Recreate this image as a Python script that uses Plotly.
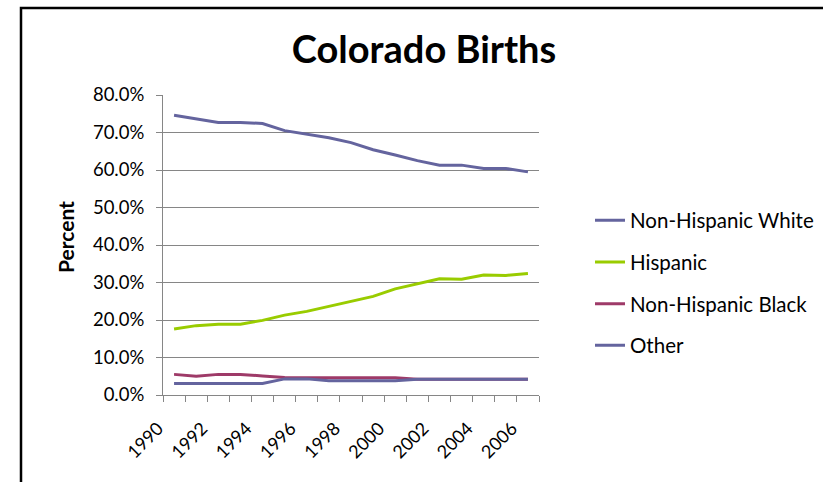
import plotly.graph_objects as go

years = [str(y) for y in range(1990, 2007)]
year_labels = [y if int(y) % 2 == 0 else "" for y in years]
white = [74.6, 73.7, 72.7, 72.7, 72.4, 70.5, 69.5, 68.6, 67.3, 65.4, 64.0, 62.5, 61.3, 61.3, 60.4, 60.4, 59.5]
hispanic = [17.6, 18.5, 18.9, 18.9, 19.9, 21.3, 22.3, 23.6, 24.9, 26.3, 28.3, 29.7, 31.0, 30.9, 32.0, 31.9, 32.4]
black = [5.5, 5.0, 5.5, 5.5, 5.1, 4.7, 4.6, 4.6, 4.6, 4.6, 4.6, 4.2, 4.2, 4.2, 4.2, 4.2, 4.2]
other = [3.1, 3.1, 3.1, 3.1, 3.1, 4.3, 4.3, 3.8, 3.8, 3.8, 3.8, 4.2, 4.2, 4.2, 4.2, 4.2, 4.2]

series = [
    ("Non-Hispanic White", white, "#64649E"),
    ("Hispanic", hispanic, "#99CC00"),
    ("Non-Hispanic Black", black, "#9E3A68"),
    ("Other", other, "#64649E"),
]

FONT = "Lato"
fig = go.Figure()
for i, (name, vals, col) in enumerate(series):
    fig.add_trace(go.Scatter(x=years, y=vals, name=name, mode="lines",
                             line=dict(color=col, width=3), legendgroup=f"g{i}"))

W, H = 823, 482
L, R, T, B = 163, 284, 95, 87
pw, ph = W - L - R, H - T - B

def px2paper_x(px):
    return (px - L) / pw

def px2paper_y(py):
    return (H - B - py) / ph

fig.update_layout(
    width=W, height=H,
    margin=dict(l=L, r=R, t=T, b=B, autoexpand=False),
    paper_bgcolor="white", plot_bgcolor="white",
    font=dict(family=FONT, size=18, color="black"),
    title=dict(text="<b>Colorado Births</b>", font=dict(family=FONT, size=38, color="black"),
               x=px2paper_x(424), xref="paper", xanchor="center",
               y=1 - 49.5 / H, yref="container", yanchor="middle"),
    showlegend=True,
    legend=dict(x=px2paper_x(590), xanchor="left", y=px2paper_y(283), yanchor="middle",
                bgcolor="rgba(0,0,0,0)", tracegroupgap=12,
                font=dict(family=FONT, size=20.5, color="black")),
    xaxis=dict(type="category", range=[-0.5, 16.5], tickmode="array",
               tickvals=years, ticktext=year_labels, tickson="boundaries",
               ticks="outside", ticklen=6, tickcolor="#868686",
               showline=True, linecolor="#868686", linewidth=1,
               showgrid=False, tickangle=-45, tickfont=dict(size=18),
               ticklabelshift=-16, ticklabelstandoff=15),
    yaxis=dict(range=[0, 80], dtick=10, tick0=0, tickformat=".1f", ticksuffix="%",
               ticks="outside", ticklen=6, tickcolor="#868686",
               showline=True, linecolor="#868686", linewidth=1,
               showgrid=True, gridcolor="#868686", gridwidth=1, zeroline=False,
               tickfont=dict(size=18.5), ticklabelstandoff=8),
    annotations=[dict(text="<b>Percent</b>", textangle=-90, showarrow=False,
                      xref="paper", yref="paper", x=px2paper_x(65), y=px2paper_y(237),
                      xanchor="center", yanchor="middle", font=dict(size=21))],
    shapes=[dict(type="rect", xref="paper", yref="paper",
                 x0=px2paper_x(21), x1=px2paper_x(840),
                 y0=px2paper_y(500), y1=px2paper_y(8),
                 line=dict(color="black", width=2.5), layer="below")],
)

fig.write_html("out.html", post_script="document.body.style.margin='0';",
               config={"displayModeBar": False})
